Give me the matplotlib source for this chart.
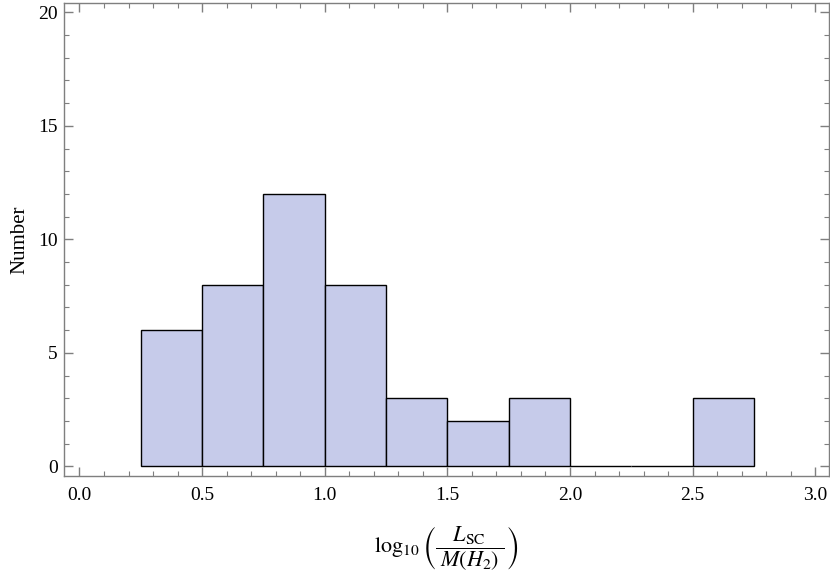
import matplotlib
matplotlib.use("Agg")
import matplotlib.pyplot as plt
from matplotlib.ticker import MultipleLocator

plt.rcParams['font.family'] = ['Liberation Serif', 'DejaVu Serif']
plt.rcParams['mathtext.fontset'] = 'stix'

# histogram data
bin_edges = [0.25, 0.5, 0.75, 1.0, 1.25, 1.5, 1.75, 2.0, 2.25, 2.5, 2.75]
counts = [6, 8, 12, 8, 3, 2, 3, 0, 0, 3]
x_ticks = [0.0, 0.5, 1.0, 1.5, 2.0, 2.5, 3.0]
y_ticks = [0, 5, 10, 15, 20]

fig = plt.figure(figsize=(8.3, 5.81), dpi=100)
ax = fig.add_axes([0.0777, 0.1812, 0.9211, 0.8136])

widths = [b - a for a, b in zip(bin_edges[:-1], bin_edges[1:])]
ax.bar(bin_edges[:-1], counts, width=widths, align='edge',
       color='#c6cbea', edgecolor='black', linewidth=1.0)

ax.set_xlim(-0.061, 3.056)
ax.set_ylim(-0.414, 20.41)
ax.set_xticks(x_ticks)
ax.set_xticklabels([f"{t:.1f}" for t in x_ticks])
ax.set_yticks(y_ticks)
ax.xaxis.set_minor_locator(MultipleLocator(0.1))
ax.yaxis.set_minor_locator(MultipleLocator(1))

frame_col = '#7f7f7f'
for s in ax.spines.values():
    s.set_color(frame_col)
    s.set_linewidth(1.0)
ax.tick_params(which='both', direction='in', top=True, right=True,
               color=frame_col, labelsize=14)
ax.tick_params(which='major', length=6.5, width=1.0)
ax.tick_params(which='minor', length=3.6, width=0.8)
ax.tick_params(axis='x', pad=8)
ax.tick_params(axis='y', pad=5)

ax.set_ylabel("Number", fontsize=15, labelpad=6)
ax.set_xlabel(r'$\log_{10}\left(\dfrac{L_{\rm SC}}{\;M(H_2)\;}\right)$',
              fontsize=16, labelpad=15)

fig.savefig("out.png", dpi=100)
